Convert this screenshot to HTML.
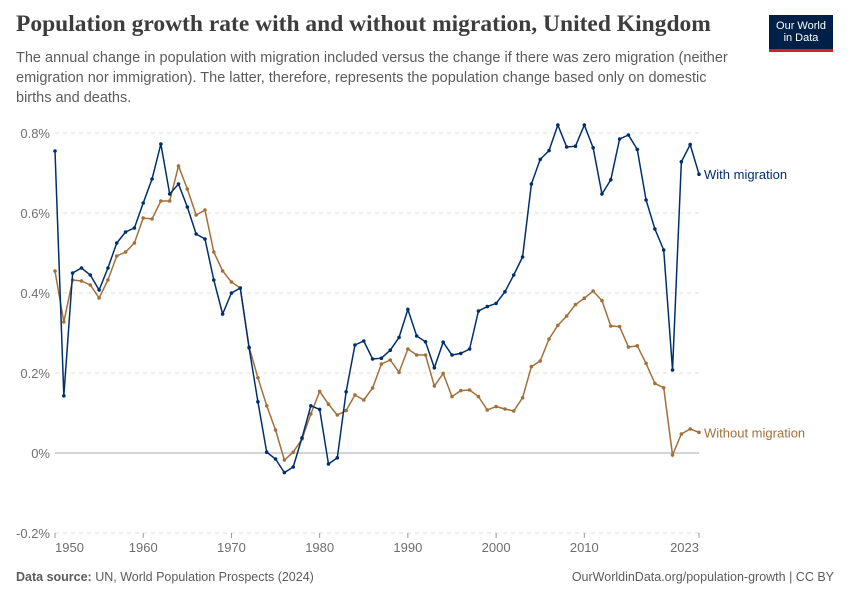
<!DOCTYPE html>
<html><head><meta charset="utf-8"><style>
body{margin:0;background:#fff;width:850px;height:600px;overflow:hidden;font-family:"Liberation Sans",sans-serif}
.title{position:absolute;left:16px;top:11px;font-family:"Liberation Serif",serif;font-weight:bold;font-size:23.5px;color:#3d3d3d}
.sub{position:absolute;left:16px;top:48px;width:830px;font-size:14.5px;line-height:20px;color:#5b5b5b;white-space:nowrap}
.logo{position:absolute;left:769px;top:15px;width:64px;height:37px;background:#002147;color:#fff;font-size:11px;line-height:12px;text-align:center;padding-top:5px;box-sizing:border-box;border-bottom:3px solid #ce261e}
.foot{position:absolute;top:570px;font-size:12.5px;color:#5b5b5b}
</style></head><body>
<div class="title">Population growth rate with and without migration, United Kingdom</div>
<div class="sub">The annual change in population with migration included versus the change if there was zero migration (neither<br>emigration nor immigration). The latter, therefore, represents the population change based only on domestic<br>births and deaths.</div>
<div class="logo">Our World<br>in Data</div>
<div class="foot" style="left:16px"><b>Data source:</b> UN, World Population Prospects (2024)</div>
<div class="foot" style="right:16px">OurWorldinData.org/population-growth | CC BY</div>
<svg id="c" width="850" height="600" style="position:absolute;left:0;top:0"></svg>
<script>
const years=[];for(let y=1950;y<=2023;y++)years.push(y);
const withMig=[.755,.143,.45,.4625,.445,.4075,.4625,.525,.5525,.5625,.625,.685,.7725,.6475,.6725,.615,.5475,.535,.4325,.3475,.40,.4125,.263,.128,.002,-.015,-.049,-.035,.038,.118,.109,-.0275,-.012,.153,.27,.28,.235,.237,.257,.289,.359,.2925,.278,.213,.277,.245,.249,.26,.355,.366,.374,.403,.445,.49,.6725,.734,.756,.82,.765,.767,.82,.763,.6475,.683,.785,.795,.759,.6325,.56,.5075,.2075,.728,.771,.697];
const withoutMig=[.455,.3275,.4325,.43,.42,.3875,.4325,.4925,.5025,.525,.5875,.585,.63,.63,.7175,.66,.595,.6075,.5025,.455,.4275,.4125,.265,.188,.118,.0575,-.0175,.002,.035,.0975,.154,.122,.095,.106,.145,.1325,.1625,.2225,.2325,.2017,.26,.245,.245,.1675,.199,.141,.156,.1575,.141,.1075,.116,.11,.105,.138,.216,.23,.285,.319,.3425,.371,.387,.405,.381,.3175,.316,.265,.268,.224,.174,.163,-.005,.0475,.06,.0517];
const yTicks=[-0.2,0,0.2,0.4,0.6,0.8];
const xTicks=[1950,1960,1970,1980,1990,2000,2010,2023];
const X=y=>55+(y-1950)*644/73, Y=v=>453-v*400;
const s=document.getElementById('c'),NS='http://www.w3.org/2000/svg';
function mk(t,a,txt){const e=document.createElementNS(NS,t);for(const k in a)e.setAttribute(k,a[k]);if(txt!=null)e.textContent=txt;s.appendChild(e);return e;}
yTicks.forEach(v=>{
 const l=mk('line',{x1:55,x2:699,y1:Y(v),y2:Y(v),stroke:v===0?'#a8a8a8':'#dddddd','stroke-dasharray':v===0?'':'4,4'});
 
 
 const t=mk('text',{x:50,y:Y(v)+5,'font-size':13,fill:'#6e6e6e','text-anchor':'end','font-family':'Liberation Sans'},(v===0?'0':v.toFixed(1))+'%');
 
 
});
xTicks.forEach((y,i)=>{
 const tk=mk('line',{x1:X(y),x2:X(y),y1:533,y2:538,stroke:'#999'});
 
 
 const anchor=i===0?'start':i===xTicks.length-1?'end':'middle';
 const t=mk('text',{x:i===0?55:i===xTicks.length-1?699:X(y),y:552,'font-size':13,fill:'#6e6e6e','text-anchor':anchor,'font-family':'Liberation Sans'},y);
 
 
});
function series(vals,col,name,label){
 const p=mk('polyline',{points:vals.map((v,i)=>X(years[i])+','+Y(v)).join(' '),fill:'none',stroke:col,'stroke-width':1.5});
 
 
 vals.forEach((v,i)=>{const c=mk('circle',{cx:X(years[i]),cy:Y(v),r:1.8,fill:col});
  
  });
 const t=mk('text',{x:704,y:Y(vals[vals.length-1])+5,'font-size':13,fill:col,'font-family':'Liberation Sans'},label);
 
 
}
series(withoutMig,'#a2703a','without-migration','Without migration');
series(withMig,'#002f6c','with-migration','With migration');
</script>
</body></html>
